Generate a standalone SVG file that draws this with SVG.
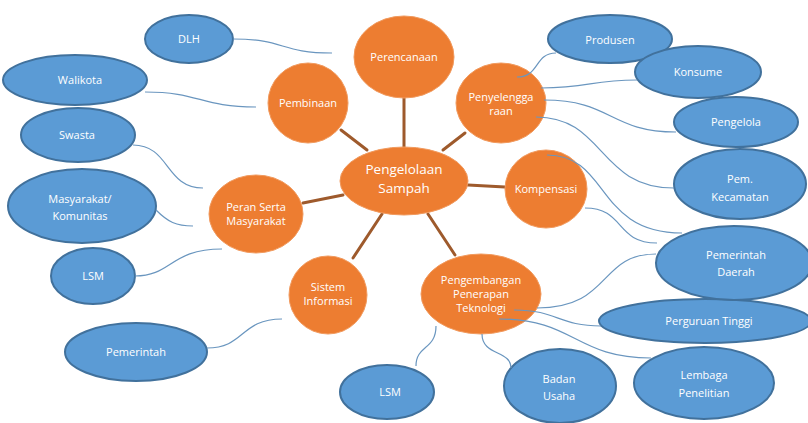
<svg xmlns="http://www.w3.org/2000/svg" width="808" height="423" viewBox="0 0 808 423">
  <style>
    .hub { fill: #ED7D31; stroke: #F19A5E; stroke-width: 1; }
    .leaf { fill: #5B9BD5; stroke: #41719C; stroke-width: 2; }
    .lbl { font-family: "Open Sans", "Noto Sans", sans-serif; font-size: 11px; fill: #FFFFFF; text-anchor: middle; }
    .big { font-size: 13.5px; }
    .spoke { stroke: #9E5A2C; stroke-width: 3; fill: none; stroke-linecap: round; }
    .link { stroke: #6A96BF; stroke-width: 1.2; fill: none; }
  </style>
  <rect width="808" height="423" fill="#FFFFFF"/>

  <!-- spokes from the centre to the orange topics -->
  <g id="connectors">
    <line class="spoke" x1="404" y1="97" x2="404" y2="147"/>
    <line class="spoke" x1="341" y1="130" x2="367" y2="150"/>
    <line class="spoke" x1="443" y1="150" x2="465" y2="133"/>
    <line class="spoke" x1="468" y1="185" x2="505" y2="187"/>
    <line class="spoke" x1="303" y1="203" x2="343" y2="195"/>
    <line class="spoke" x1="382" y1="214" x2="353" y2="258"/>
    <line class="spoke" x1="428" y1="214" x2="455" y2="255"/>
  </g>

  <!-- orange topics -->
  <g id="node-pengelolaan">
    <ellipse class="hub" cx="404" cy="181" rx="64" ry="34"/>
    <text class="lbl big" x="404" y="174">Pengelolaan</text>
    <text class="lbl big" x="404" y="193">Sampah</text>
  </g>
  <g id="node-perencanaan">
    <ellipse class="hub" cx="404" cy="57" rx="50" ry="41"/>
    <text class="lbl" x="404" y="61">Perencanaan</text>
  </g>
  <g id="node-pembinaan">
    <ellipse class="hub" cx="308" cy="103" rx="40" ry="40"/>
    <text class="lbl" x="308" y="107">Pembinaan</text>
  </g>
  <g id="node-penyelenggaraan">
    <ellipse class="hub" cx="501" cy="103" rx="45" ry="40"/>
    <text class="lbl" x="501" y="101">Penyelengga</text>
    <text class="lbl" x="501" y="115">raan</text>
  </g>
  <g id="node-kompensasi">
    <ellipse class="hub" cx="546" cy="189" rx="41" ry="39"/>
    <text class="lbl" x="546" y="193">Kompensasi</text>
  </g>
  <g id="node-peran-serta">
    <ellipse class="hub" cx="256" cy="214" rx="47" ry="39"/>
    <text class="lbl" x="256" y="211">Peran Serta</text>
    <text class="lbl" x="256" y="225">Masyarakat</text>
  </g>
  <g id="node-sistem-informasi">
    <ellipse class="hub" cx="328" cy="295" rx="39" ry="39"/>
    <text class="lbl" x="328" y="291">Sistem</text>
    <text class="lbl" x="328" y="305">Informasi</text>
  </g>
  <g id="node-teknologi">
    <ellipse class="hub" cx="481" cy="294" rx="60" ry="40"/>
    <text class="lbl" x="481" y="284">Pengembangan</text>
    <text class="lbl" x="481" y="298">Penerapan</text>
    <text class="lbl" x="481" y="312">Teknologi</text>
  </g>

  <!-- blue stakeholders -->
  <g id="node-dlh">
    <ellipse class="leaf" cx="189" cy="39" rx="44" ry="24"/>
    <text class="lbl" x="189" y="43">DLH</text>
  </g>
  <g id="node-walikota">
    <ellipse class="leaf" cx="75" cy="80" rx="72" ry="25"/>
    <text class="lbl" x="80" y="84">Walikota</text>
  </g>
  <g id="node-swasta">
    <ellipse class="leaf" cx="78" cy="135" rx="57" ry="27"/>
    <text class="lbl" x="77" y="139">Swasta</text>
  </g>
  <g id="node-masyarakat">
    <ellipse class="leaf" cx="82" cy="206" rx="74" ry="37"/>
    <text class="lbl" x="80" y="203">Masyarakat/</text>
    <text class="lbl" x="80" y="220">Komunitas</text>
  </g>
  <g id="node-lsm-kiri">
    <ellipse class="leaf" cx="93" cy="276" rx="42" ry="28"/>
    <text class="lbl" x="93" y="280">LSM</text>
  </g>
  <g id="node-pemerintah-kiri">
    <ellipse class="leaf" cx="136" cy="352" rx="71" ry="29"/>
    <text class="lbl" x="136" y="356">Pemerintah</text>
  </g>
  <g id="node-lsm-bawah">
    <ellipse class="leaf" cx="387" cy="392" rx="47" ry="27"/>
    <text class="lbl" x="390" y="396">LSM</text>
  </g>
  <g id="node-badan-usaha">
    <ellipse class="leaf" cx="560" cy="386" rx="56" ry="37"/>
    <text class="lbl" x="559" y="383">Badan</text>
    <text class="lbl" x="559" y="400">Usaha</text>
  </g>
  <g id="node-lembaga">
    <ellipse class="leaf" cx="704" cy="383" rx="70" ry="36"/>
    <text class="lbl" x="704" y="379">Lembaga</text>
    <text class="lbl" x="704" y="397">Penelitian</text>
  </g>
  <g id="node-perguruan">
    <ellipse class="leaf" cx="705" cy="321" rx="106" ry="22"/>
    <text class="lbl" x="709" y="325">Perguruan Tinggi</text>
  </g>
  <g id="node-pemda">
    <ellipse class="leaf" cx="734" cy="263" rx="78" ry="37"/>
    <text class="lbl" x="736" y="259">Pemerintah</text>
    <text class="lbl" x="736" y="276">Daerah</text>
  </g>
  <g id="node-kecamatan">
    <ellipse class="leaf" cx="740" cy="184" rx="66" ry="35"/>
    <text class="lbl" x="740" y="183">Pem.</text>
    <text class="lbl" x="740" y="201">Kecamatan</text>
  </g>
  <g id="node-pengelola">
    <ellipse class="leaf" cx="736" cy="122" rx="62" ry="25"/>
    <text class="lbl" x="736" y="126">Pengelola</text>
  </g>
  <g id="node-produsen">
    <ellipse class="leaf" cx="610" cy="39" rx="62" ry="24"/>
    <text class="lbl" x="610" y="44">Produsen</text>
  </g>
  <g id="node-konsume">
    <ellipse class="leaf" cx="698" cy="72" rx="63" ry="26"/>
    <text class="lbl" x="698" y="76">Konsume</text>
  </g>

  <!-- curved links from topics to stakeholders -->
  <g id="links">
    <path class="link" d="M233,39 C285,39 280,53 332,53"/>
    <path class="link" d="M145,92 C200,92 200,107 256,107"/>
    <path class="link" d="M133,145 C170,145 165,188 203,188"/>
    <path class="link" d="M156,210 C168,222 176,226 193,226"/>
    <path class="link" d="M135,276 C172,276 170,249 222,249"/>
    <path class="link" d="M207,348 C245,348 240,319 282,319"/>
    <path class="link" d="M416,366 C416,345 436,350 436,326"/>
    <path class="link" d="M482,334 C482,356 511,350 511,368"/>
    <path class="link" d="M499,319 C575,319 575,358 651,358"/>
    <path class="link" d="M514,310 C558,310 558,326 601,326"/>
    <path class="link" d="M537,308 C612,308 598,254 656,254"/>
    <path class="link" d="M547,155 C610,155 595,233 682,233"/>
    <path class="link" d="M585,208 C625,208 615,243 657,243"/>
    <path class="link" d="M517,77 C540,77 534,53 556,53"/>
    <path class="link" d="M541,88 C590,88 590,80 637,80"/>
    <path class="link" d="M544,100 C612,100 610,132 676,132"/>
    <path class="link" d="M536,117 C605,117 598,188 674,188"/>
  </g>
</svg>
